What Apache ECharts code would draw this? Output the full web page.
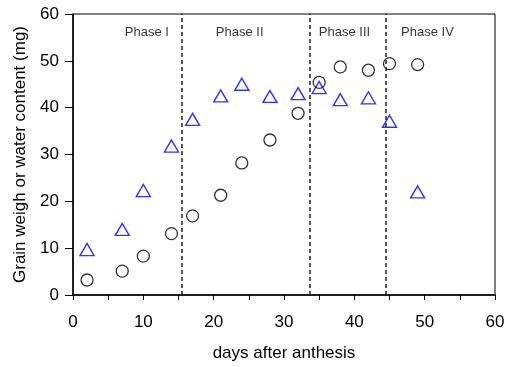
<!DOCTYPE html>
<html>
<head>
<meta charset="utf-8">
<script src="https://cdn.jsdelivr.net/npm/echarts@6/dist/echarts.min.js"></script>
<style>
  html, body { margin: 0; padding: 0; background: #fff; }
  #main { width: 508px; height: 367px; }
</style>
</head>
<body>
<div id="main"></div>
<script>
// days after anthesis
var days = [2, 7, 10, 14, 17, 21, 24, 28, 32, 35, 38, 42, 45, 49];
// grain weight (circles) and water content (triangles), mg
var grainWeight = [3.2, 5.1, 8.3, 13.1, 16.9, 21.3, 28.2, 33.1, 38.8, 45.4, 48.7, 48.0, 49.4, 49.2];
var waterContent = [9.7, 14.0, 22.3, 31.8, 37.5, 42.5, 45.0, 42.4, 43.0, 44.3, 41.7, 42.1, 37.1, 22.0];
// phase boundaries and labels
var phaseBounds = [15.4, 33.7, 44.4];
var phaseNames = ['Phase I', 'Phase II', 'Phase III', 'Phase IV'];
var phaseLabelX = [10.5, 23.7, 38.6, 50.4];
var phaseLabelY = 56;

function pairs(xs, ys) {
    var out = [];
    for (var i = 0; i < xs.length; i++) {
        out.push([xs[i], ys[i]]);
    }
    return out;
}

var font = 'Liberation Sans, Arial, sans-serif';
var chart = echarts.init(document.getElementById('main'));

var option = {
    animation: false,
    backgroundColor: '#fff',
    grid: {
        left: 73, right: 13, top: 14, bottom: 72,
        show: true, borderColor: '#000', borderWidth: 1
    },
    xAxis: {
        type: 'value', min: 0, max: 60, interval: 10,
        name: 'days after anthesis', nameLocation: 'middle', nameGap: 50,
        nameTextStyle: { fontFamily: font, fontSize: 17, color: '#000' },
        axisLine: { lineStyle: { color: '#000', width: 1.5 } },
        axisTick: { length: 5, lineStyle: { color: '#000' } },
        minorTick: { show: true, splitNumber: 2, length: 5, lineStyle: { color: '#000' } },
        axisLabel: { fontFamily: font, fontSize: 17, color: '#000', margin: 19 },
        splitLine: { show: false }
    },
    yAxis: {
        type: 'value', min: 0, max: 60, interval: 10,
        name: 'Grain weigh or water content (mg)', nameLocation: 'middle', nameGap: 42,
        nameTextStyle: { fontFamily: font, fontSize: 17, color: '#000' },
        axisLine: { lineStyle: { color: '#000', width: 1.5 } },
        axisTick: { length: 8, lineStyle: { color: '#000' } },
        axisLabel: { fontFamily: font, fontSize: 17, color: '#000', margin: 14 },
        splitLine: { show: false }
    },
    series: [{
        type: 'scatter',
        name: 'water',
        data: pairs(days, waterContent),
        symbol: 'triangle',
        symbolSize: [14, 12],
        itemStyle: { color: 'rgba(255,255,255,0)', borderColor: '#0000ff', borderWidth: 1.4 },
        markLine: {
            silent: true,
            symbol: 'none',
            label: { show: false },
            lineStyle: { color: '#222', type: [4, 3], width: 1.5 },
            data: phaseBounds.map(function (v) { return { xAxis: v }; })
        },
        z: 3
    }, {
        type: 'scatter',
        name: 'grain',
        data: pairs(days, grainWeight),
        symbol: 'circle',
        symbolSize: 12,
        itemStyle: { color: 'rgba(255,255,255,0)', borderColor: '#000', borderWidth: 1.3 },
        z: 4
    }, {
        type: 'scatter',
        name: 'phases',
        data: phaseLabelX.map(function (x, i) { return { value: [x, phaseLabelY], name: phaseNames[i] }; }),
        symbolSize: 0,
        silent: true,
        label: {
            show: true, position: 'inside', formatter: '{b}',
            fontFamily: font, fontSize: 13, color: '#000'
        }
    }]
};

chart.setOption(option);
</script>
</body>
</html>
